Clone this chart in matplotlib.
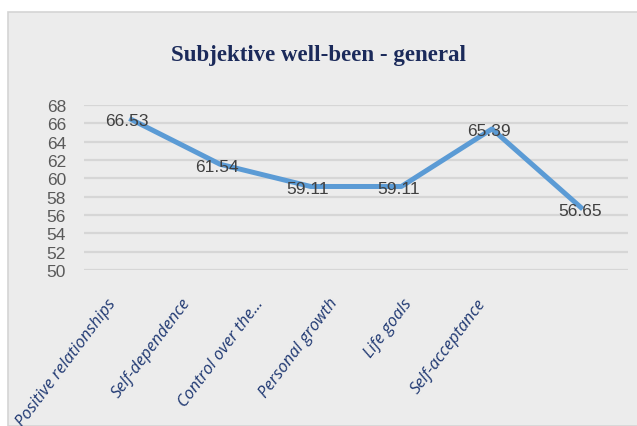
import matplotlib.pyplot as plt
import matplotlib.patches as patches
import matplotlib.transforms as mtransforms

categories = ["Positive relationships", "Self-dependence", "Control over the...",
              "Personal growth", "Life goals", "Self-acceptance"]
scores = [66.53, 61.54, 59.11, 59.11, 65.39, 56.65]
y_ticks = [50, 52, 54, 56, 58, 60, 62, 64, 66, 68]

fig = plt.figure(figsize=(6.37, 4.27), dpi=100)
fig.patch.set_facecolor("white")

# grey chart panel
panel = patches.Rectangle((8 / 637, 0), 1, 1 - 13 / 427, transform=fig.transFigure,
                          facecolor="#ececec", edgecolor="#d4d4d4", lw=1.2, zorder=-10)
fig.patches.append(panel)

fig.text(0.5, 0.87, "Subjektive well-been - general", ha="center", va="center",
         fontsize=16.5, family="Liberation Serif", weight="bold", color="#1b2a5a")

ax = fig.add_axes([84 / 637, 1 - 271 / 427, 544 / 637, 165 / 427])
ax.set_facecolor("none")
x = list(range(len(categories)))
ax.plot(x, scores, color="#5b9bd5", lw=3.6, solid_capstyle="butt", zorder=3)

for xi, v in zip(x, scores):
    ax.text(xi - 0.03, v - 0.2, f"{v:.2f}", ha="center", va="center", fontsize=12.5,
            family="Liberation Sans", color="#404040", zorder=4)

ax.set_xlim(-0.5, len(categories) - 0.5)
ax.set_ylim(50, 68)
ax.set_yticks(y_ticks)
ax.set_yticklabels([str(t) for t in y_ticks], fontsize=12.5,
                   family="Liberation Sans", color="#595959")
ax.tick_params(axis="y", length=0, pad=13)
ax.grid(axis="y", color="#d6d6d6", lw=1.6)
ax.set_axisbelow(True)
ax.set_xticks([])
for s in ax.spines.values():
    s.set_visible(False)

# category labels, slanted, ending just left of their point
trans = mtransforms.blended_transform_factory(ax.transData, ax.transAxes)
offset = mtransforms.ScaledTranslation(0, -25 / 100, fig.dpi_scale_trans)
for i, name in enumerate(categories):
    ax.text(-0.25 + 0.816 * i, 0, name, transform=trans + offset,
            rotation=53, rotation_mode="anchor", ha="right", va="top",
            fontsize=12, family="Open Sans", style="italic", color="#1f3872")

fig.savefig("out.png", dpi=100)
